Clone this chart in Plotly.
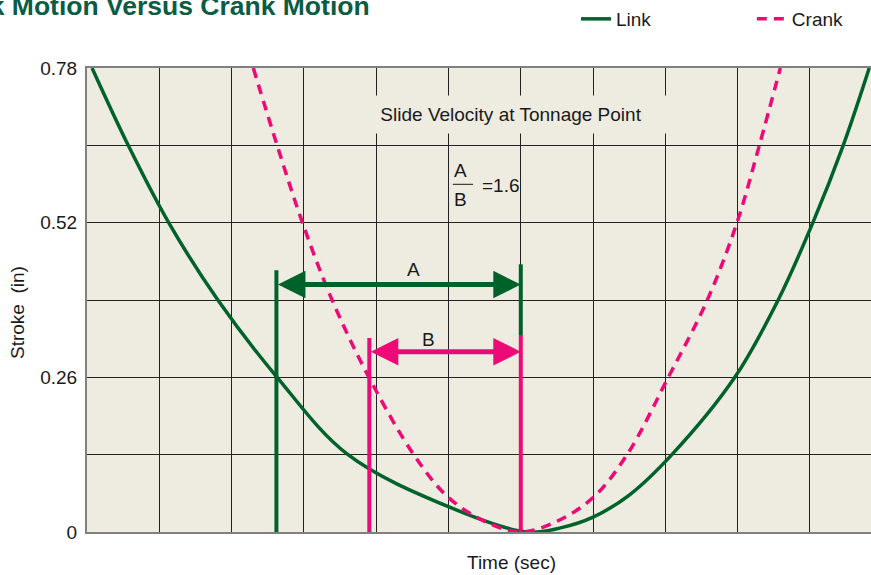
import plotly.graph_objects as go

# time axis is in grid divisions (no labelled ticks on the original)
link_t = [0.07, 0.57, 1.13, 1.81, 2.63, 3.61, 4.99, 6.08,
          6.55, 7.0, 7.51, 8.09, 8.96, 9.56, 10.04, 10.46, 10.82]
link_s = [0.78, 0.65, 0.52, 0.39, 0.26, 0.13, 0.043, 0.0,
          0.007, 0.025, 0.063, 0.13, 0.26, 0.39, 0.52, 0.65, 0.78]

crank_t = [2.30, 2.63, 2.98, 3.39, 3.90, 4.52, 4.99, 5.50, 6.0,
           6.50, 7.0, 7.47, 8.04, 8.58, 8.99, 9.30, 9.59]
crank_s = [0.78, 0.65, 0.52, 0.39, 0.26, 0.13, 0.059, 0.018, 0.0,
           0.018, 0.058, 0.13, 0.26, 0.39, 0.52, 0.65, 0.78]

# tonnage point markers and A / B spans
link_tp_t, link_tp_top = 2.62, 0.44
crank_tp_t, crank_tp_top = 3.905, 0.326
bdc_t, bdc_split, bdc_top = 6.0, 0.331, 0.45
a_level, b_level = 0.416, 0.303
ratio_text = "=1.6"

ytick_vals = [0, 0.13, 0.26, 0.39, 0.52, 0.65, 0.78]
ytick_text = ["0", "", "0.26", "", "0.52", "", "0.78"]

GREEN = "#00622b"
PINK = "#ee0a76"
BG = "#eeebe0"
INK = "#1a1a1a"
FONT = "Liberation Sans, Arial, sans-serif"
FS = 19

fig = go.Figure()
fig.add_trace(go.Scatter(x=link_t, y=link_s, mode="lines", name="Link", legend="legend",
                         line=dict(color=GREEN, width=3.5, shape="spline")))
fig.add_trace(go.Scatter(x=crank_t, y=crank_s, mode="lines", name="Crank", legend="legend2",
                         line=dict(color=PINK, width=3.5, shape="spline", dash="10px,7px")))

# vertical marker lines
for xs, ys, c in [([link_tp_t, link_tp_t], [0, link_tp_top], GREEN),
                  ([crank_tp_t, crank_tp_t], [0, crank_tp_top], PINK),
                  ([bdc_t, bdc_t], [bdc_split, bdc_top], GREEN),
                  ([bdc_t, bdc_t], [0, bdc_split], PINK)]:
    fig.add_trace(go.Scatter(x=xs, y=ys, mode="lines", showlegend=False,
                             line=dict(color=c, width=4), hoverinfo="skip"))

# double headed arrows
for x0, x1, lvl, c in [(link_tp_t, bdc_t, a_level, GREEN), (crank_tp_t, bdc_t, b_level, PINK)]:
    fig.add_annotation(x=x1, y=lvl, ax=x0, ay=lvl, xref="x", yref="y", axref="x", ayref="y",
                       text="", showarrow=True, arrowhead=2, startarrowhead=2,
                       arrowside="end+start", arrowwidth=5, arrowsize=1.1, startarrowsize=1.1,
                       standoff=0, startstandoff=0, arrowcolor=c)

txt = dict(family=FONT, size=FS, color=INK)
fig.add_annotation(x=4.51, y=0.441, text="A", showarrow=False, font=txt)
fig.add_annotation(x=4.72, y=0.324, text="B", showarrow=False, font=txt)
fig.add_annotation(x=5.86, y=0.702, text="Slide Velocity at Tonnage Point", showarrow=False,
                   font=txt, bgcolor=BG, width=350, height=35)
fig.add_annotation(x=5.17, y=0.608, text="A", showarrow=False, font=txt)
fig.add_annotation(x=5.17, y=0.559, text="B", showarrow=False, font=txt)
fig.add_annotation(x=5.72, y=0.582, text=ratio_text, showarrow=False, font=txt)
fig.add_shape(type="line", x0=5.06, x1=5.34, y0=0.5845, y1=0.5845,
              line=dict(color=INK, width=1))

fig.add_annotation(xref="paper", yref="paper", x=0.3635, y=1.1336, xanchor="right", yanchor="middle",
                   text="<b>Link Motion Versus Crank Motion</b>", showarrow=False,
                   font=dict(family=FONT, size=26.5, color="#0a5c45"))
fig.add_annotation(xref="paper", yref="paper", x=0.5415, y=-0.0668, xanchor="center", yanchor="middle",
                   text="Time (sec)", showarrow=False, font=txt)
fig.add_annotation(xref="paper", yref="paper", x=-0.088, y=0.472, xanchor="center", yanchor="middle",
                   text="Stroke  (in)", textangle=-90, showarrow=False, font=txt)

leg = dict(orientation="h", y=1.1466, yanchor="top", xanchor="left",
           font=dict(family=FONT, size=FS, color=INK), bgcolor="rgba(0,0,0,0)")

fig.update_layout(
    width=871, height=575,
    margin=dict(l=87, r=0, t=68, b=43),
    paper_bgcolor="white", plot_bgcolor=BG,
    font=dict(family=FONT, size=FS, color=INK),
    legend=dict(leg, x=0.6237),
    legend2=dict(leg, x=0.848),
    xaxis=dict(range=[0, 10.844], tickvals=list(range(11)), showticklabels=False,
               showgrid=True, gridcolor="#222", gridwidth=1, zeroline=False,
               showline=True, linecolor="#808080", linewidth=2, mirror=True),
    yaxis=dict(range=[0, 0.78], tickvals=ytick_vals, ticktext=ytick_text,
               showgrid=True, gridcolor="#222", gridwidth=1, zeroline=False,
               showline=True, linecolor="#808080", linewidth=2,
               ticklabelstandoff=4, tickfont=dict(family=FONT, size=FS, color=INK)),
)

# the page body has a default 8px margin; drop it so the figure sits at the corner
fig.write_html("out.html", config={"displayModeBar": False},
               post_script="document.body.style.margin='0';")
